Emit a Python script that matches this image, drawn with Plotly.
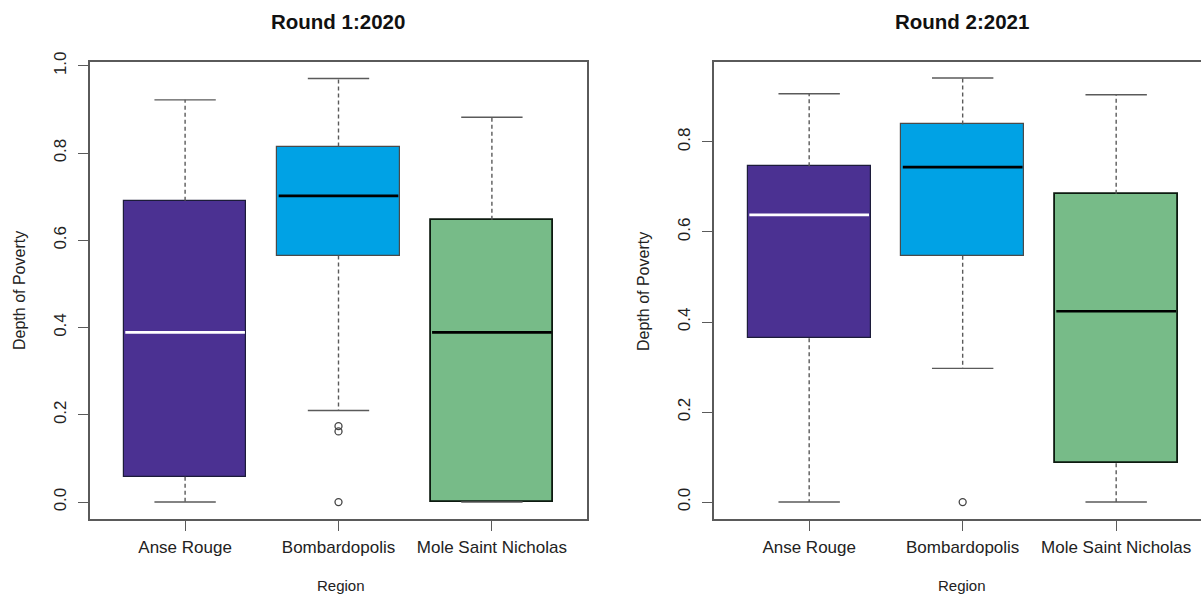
import plotly.graph_objects as go

# ---------------- data ----------------
regions = ["Anse Rouge", "Bombardopolis", "Mole Saint Nicholas"]
box_colors = ["#4B3192", "#00A2E5", "#77BB88"]
border_colors = ["#1c1c3a", "#4a4a4a", "#0d1a10"]
border_widths = [1.2, 1.2, 1.8]
median_colors = ["#FFFFFF", "#000000", "#000000"]

# Round 1: 2020
r1_lower = [0.0, 0.21, 0.0]
r1_q1 = [0.058, 0.565, 0.0]
r1_median = [0.389, 0.702, 0.389]
r1_q3 = [0.691, 0.815, 0.647]
r1_upper = [0.922, 0.971, 0.882]
r1_out_region = ["Bombardopolis", "Bombardopolis", "Bombardopolis"]
r1_out_value = [0.174, 0.162, 0.0]

# Round 2: 2021
r2_lower = [0.0, 0.297, 0.0]
r2_q1 = [0.364, 0.547, 0.086]
r2_median = [0.638, 0.744, 0.424]
r2_q3 = [0.746, 0.839, 0.685]
r2_upper = [0.907, 0.942, 0.905]
r2_out_region = ["Bombardopolis"]
r2_out_value = [0.0]

y_ticks_1 = [0.0, 0.2, 0.4, 0.6, 0.8, 1.0]
y_ticks_2 = [0.0, 0.2, 0.4, 0.6, 0.8]

# ---------------- styling ----------------
FONT = "Liberation Sans, Arial, sans-serif"
TXT = "#222222"
AXC = "#5a5a5a"
BOXW = 0.8
CAPW = 0.4

fig = go.Figure()


def add_panel(xa, ya, lower, q1, med, q3, upper, out_reg, out_val):
    pos = list(range(1, len(regions) + 1))
    # box bodies
    fig.add_trace(go.Bar(
        x=pos, base=q1, y=[b - a for a, b in zip(q1, q3)], width=BOXW,
        marker=dict(color=box_colors, line=dict(color=border_colors, width=border_widths)),
        xaxis=xa, yaxis=ya, showlegend=False, hoverinfo="skip"))
    # dashed whiskers
    wx, wy = [], []
    for p, lo, a, b, hi in zip(pos, lower, q1, q3, upper):
        wx += [p, p, None, p, p, None]
        wy += [b, hi, None, a, lo, None]
    fig.add_trace(go.Scatter(
        x=wx, y=wy, mode="lines", line=dict(color=AXC, width=1.4, dash="4px,3px"),
        xaxis=xa, yaxis=ya, showlegend=False, hoverinfo="skip"))
    # staples
    cx, cy = [], []
    for p, lo, hi in zip(pos, lower, upper):
        cx += [p - CAPW / 2, p + CAPW / 2, None, p - CAPW / 2, p + CAPW / 2, None]
        cy += [hi, hi, None, lo, lo, None]
    fig.add_trace(go.Scatter(
        x=cx, y=cy, mode="lines", line=dict(color=AXC, width=1.4),
        xaxis=xa, yaxis=ya, showlegend=False, hoverinfo="skip"))
    # medians
    for p, m, c in zip(pos, med, median_colors):
        fig.add_trace(go.Scatter(
            x=[p - BOXW / 2 + 0.01, p + BOXW / 2 - 0.01], y=[m, m], mode="lines",
            line=dict(color=c, width=2.6), xaxis=xa, yaxis=ya,
            showlegend=False, hoverinfo="skip"))
    # outliers
    ox = [regions.index(r) + 1 for r in out_reg]
    fig.add_trace(go.Scatter(
        x=ox, y=out_val, mode="markers",
        marker=dict(symbol="circle-open", size=7, color="#444444", line=dict(width=1.3)),
        xaxis=xa, yaxis=ya, showlegend=False, hoverinfo="skip"))


add_panel("x", "y", r1_lower, r1_q1, r1_median, r1_q3, r1_upper, r1_out_region, r1_out_value)
add_panel("x2", "y2", r2_lower, r2_q1, r2_median, r2_q3, r2_upper, r2_out_region, r2_out_value)

W, H = 1201, 594
ydom = [75 / H, 532 / H]

common_x = dict(
    tickmode="array", tickvals=[1, 2, 3], ticktext=regions, automargin=False,
    ticks="outside", ticklen=10, tickcolor=AXC, tickwidth=1.4,
    showline=True, linecolor=AXC, linewidth=1.5, showgrid=False, zeroline=False,
    tickfont=dict(family=FONT, size=17, color=TXT), ticklabelstandoff=2,
)
common_y = dict(
    ticks="outside", ticklen=10, tickcolor=AXC, tickwidth=1.4, tickangle=-90,
    automargin=False,
    showline=True, linecolor=AXC, linewidth=1.5, showgrid=False, zeroline=False,
    tickformat=".1f", tickfont=dict(family=FONT, size=17, color=TXT), ticklabelstandoff=5,
)


def ann(text, x, y, size, angle=0, color=TXT):
    return dict(text=text, x=x / W, y=1 - y / H, xref="paper", yref="paper",
                xanchor="center", yanchor="middle", textangle=angle, showarrow=False,
                font=dict(family=FONT, size=size, color=color))


fig.update_layout(
    template="none",
    width=W, height=H,
    margin=dict(l=0, r=0, t=0, b=0, pad=0, autoexpand=False),
    paper_bgcolor="white", plot_bgcolor="white",
    bargap=0, barmode="overlay",
    xaxis=dict(common_x, domain=[90 / W, 587 / W], range=[0.38, 3.62], mirror=True, anchor="y"),
    yaxis=dict(common_y, domain=ydom, range=[-0.0388, 1.0088], tickvals=y_ticks_1,
               mirror=True, anchor="x"),
    xaxis2=dict(common_x, domain=[714 / W, 1.0], range=[0.38, 3.5526], mirror=True, anchor="y2"),
    yaxis2=dict(common_y, domain=ydom, range=[-0.0376, 0.9776], tickvals=y_ticks_2,
                mirror=False, anchor="x2"),
    annotations=[
        ann("<b>Round 1:2020</b>", 338, 22, 20.5, color="#111111"),
        ann("<b>Round 2:2021</b>", 962, 22, 20.5, color="#111111"),
        ann("Region", 341, 585, 15),
        ann("Region", 962, 585, 15),
        ann("Depth of Poverty", 20, 291, 16, angle=-90),
        ann("Depth of Poverty", 644, 291, 16, angle=-90),
    ],
)

fig.write_html(
    "out.html",
    config={"displayModeBar": False},
    post_script="document.body.style.margin='0';document.body.style.overflow='hidden';",
)
